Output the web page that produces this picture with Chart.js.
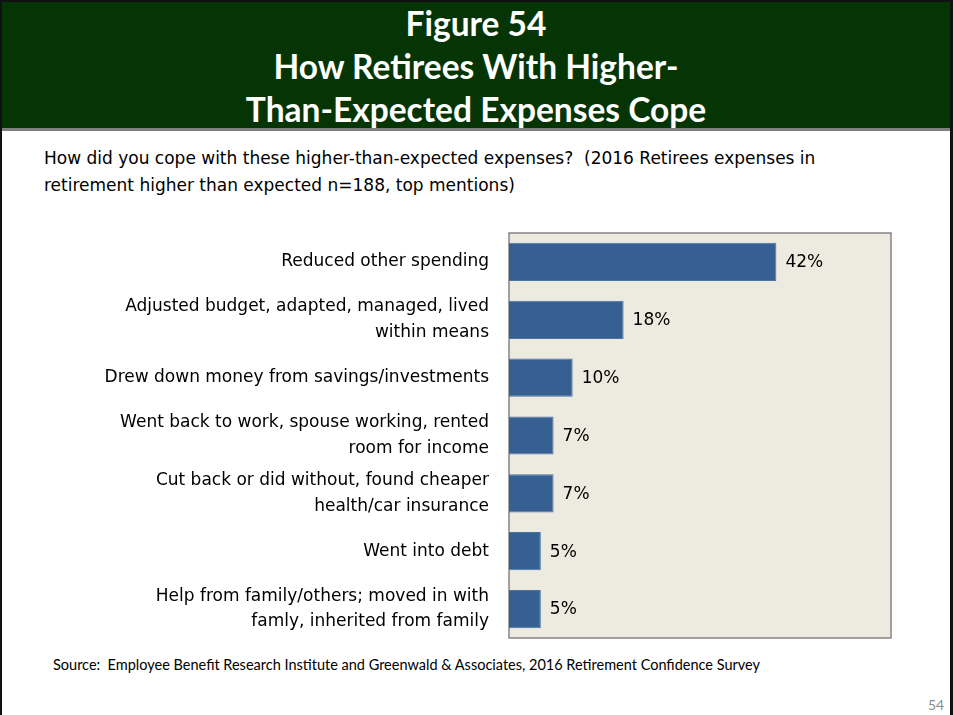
<!DOCTYPE html>
<html lang="en">
  <head>
    <meta charset="UTF-8" />
    <title>Figure 54 - How Retirees Cope</title>
    <style>
      html, body { margin: 0; padding: 0; background: #fff; }
      .page {
        position: relative;
        width: 953px;
        height: 715px;
        overflow: hidden;
        box-sizing: border-box;
        border-left: 2px solid #111;
        border-right: 3px solid #111;
        border-top: 2px solid #111;
      }
      .header {
        position: absolute;
        left: 0; right: 0; top: 0;
        height: 126px;
        background: #053505;
        border-bottom: 3px solid #7f7f7f;
        color: #fff;
        font-family: Lato, "Open Sans", sans-serif;
        font-weight: bold;
        font-size: 33.5px;
        text-align: center;
        line-height: 43px;
      }
      .question {
        position: absolute;
        left: 42px; top: 143px;
        font-family: "DejaVu Sans", sans-serif;
        font-size: 17px;
        line-height: 27px;
        color: #000;
      }
      .source {
        position: absolute;
        left: 51px; top: 654px;
        font-family: Lato, sans-serif;
        font-size: 14.5px;
        color: #000;
      }
      .pagenum {
        position: absolute;
        left: 926px; top: 694px;
        font-family: Lato, sans-serif;
        font-size: 14px;
        color: #8c8c8c;
      }
      #chartWrap {
        position: absolute;
        left: -2px; top: 219px;
        width: 953px; height: 425px;
      }
    </style>
  </head>
  <body>
    <div class="page">
      <div class="header">
        Figure 54<br />How Retirees With Higher-<br />Than-Expected Expenses Cope
      </div>
      <div class="question">
        How did you cope with these higher-than-expected expenses?&nbsp; (2016 Retirees expenses in<br />
        retirement higher than expected n=188, top mentions)
      </div>
      <div id="chartWrap"><canvas id="barChart"></canvas></div>
      <div class="source">Source:&nbsp; Employee Benefit Research Institute and Greenwald &amp; Associates, 2016 Retirement Confidence Survey</div>
      <div class="pagenum">54</div>
    </div>

    <script src="https://cdn.jsdelivr.net/npm/chart.js"></script>
    <script>
      // dados do grafico
      const categorias = [
        "Reduced other spending",
        ["Adjusted budget, adapted, managed, lived", "within means"],
        "Drew down money from savings/investments",
        ["Went back to work, spouse working, rented", "room for income"],
        ["Cut back or did without, found cheaper", "health/car insurance"],
        "Went into debt",
        ["Help from family/others; moved in with", "famly, inherited from family"]
      ];
      const percentuais = [42, 18, 10, 7, 7, 5, 5];

      // fundo bege e borda da area do grafico
      const plotBg = {
        id: 'plotBg',
        beforeDraw(chart) {
          const { ctx, chartArea: a } = chart;
          ctx.save();
          ctx.fillStyle = '#EDEAE0';
          ctx.fillRect(a.left, a.top, a.right - a.left, a.bottom - a.top);
          ctx.strokeStyle = '#858585';
          ctx.lineWidth = 1.5;
          ctx.strokeRect(a.left, a.top, a.right - a.left, a.bottom - a.top);
          ctx.restore();
        }
      };

      // rotulos de valor ao lado das barras
      const valueLabels = {
        id: 'valueLabels',
        afterDatasetsDraw(chart) {
          const { ctx } = chart;
          const meta = chart.getDatasetMeta(0);
          ctx.save();
          ctx.font = '17px "DejaVu Sans"';
          ctx.fillStyle = '#000';
          ctx.textBaseline = 'middle';
          meta.data.forEach((bar, i) => {
            ctx.fillText(percentuais[i] + '%', bar.x + 9, bar.y + 1);
          });
          ctx.restore();
        }
      };

      const ctx = document.getElementById('barChart').getContext('2d');
      new Chart(ctx, {
        type: 'bar',
        data: {
          labels: categorias,
          datasets: [{
            data: percentuais,
            backgroundColor: '#376092',
            borderColor: '#4A72A4',
            borderWidth: 1,
            categoryPercentage: 1,
            barPercentage: 0.66
          }]
        },
        options: {
          indexAxis: 'y',
          responsive: true,
          maintainAspectRatio: false,
          animation: false,
          layout: { padding: { top: 12, bottom: 8, right: 62, left: 0 } },
          plugins: {
            legend: { display: false },
            tooltip: { enabled: false }
          },
          scales: {
            x: {
              display: false,
              min: 0,
              max: 60
            },
            y: {
              grid: { display: false, drawTicks: false },
              border: { display: false },
              afterFit(scale) {
                scale.width = 509;
                scale.paddingTop = 0;
                scale.paddingBottom = 0;
              },
              ticks: {
                padding: 20,
                color: '#000',
                font: { family: 'DejaVu Sans', size: 17, lineHeight: 1.5 }
              }
            }
          }
        },
        plugins: [plotBg, valueLabels]
      });
    </script>
  </body>
</html>
